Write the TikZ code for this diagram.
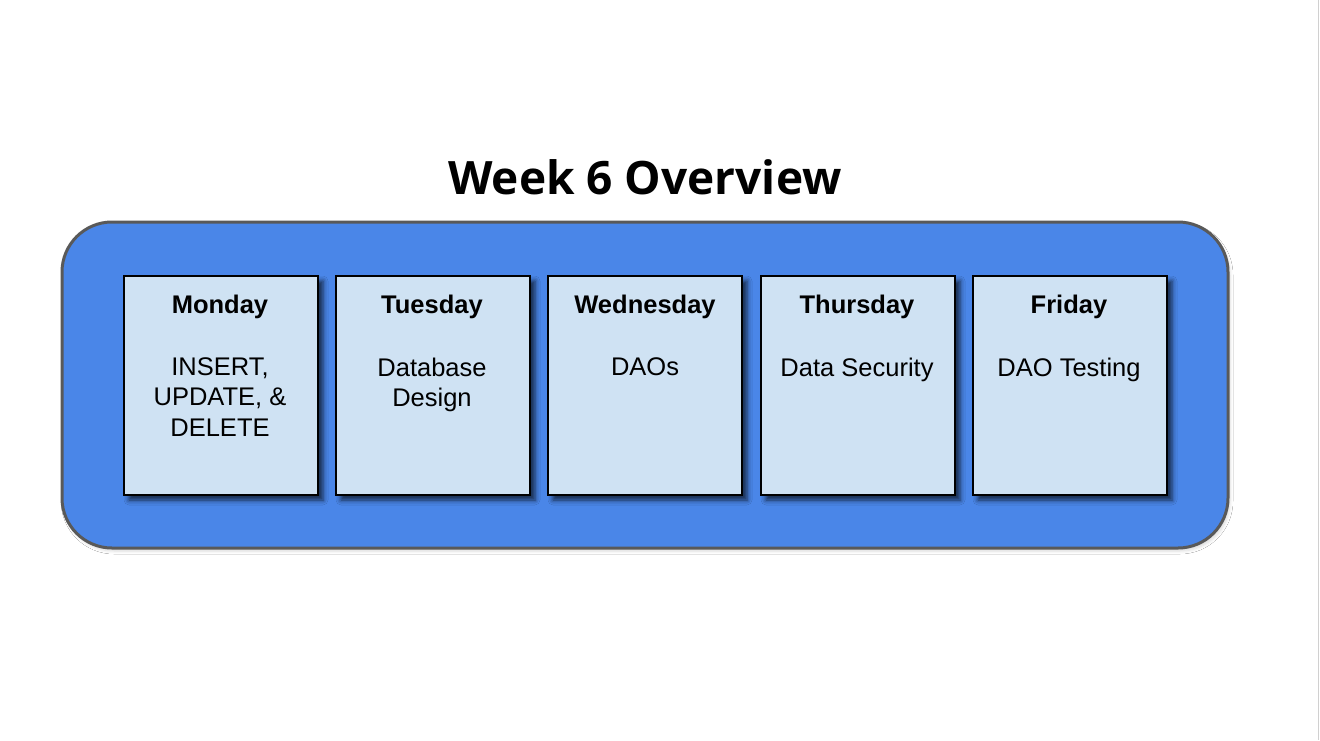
\documentclass[tikz,border=0pt]{standalone}
\usepackage{fontspec}
\setmainfont{Liberation Sans}
\newfontfamily\titlefont{Open Sans}
\usetikzlibrary{shadows.blur}
\definecolor{panelblue}{HTML}{4A86E8}
\definecolor{paneledge}{HTML}{595959}
\definecolor{dayfill}{HTML}{CFE2F3}
\definecolor{pageedge}{HTML}{D0D0D0}
\begin{document}
\begin{tikzpicture}[x=1pt,y=-1pt,
  panel/.style={draw=paneledge, line width=3pt, fill=panelblue, rounded corners=50pt,
    blur shadow={shadow xshift=2pt, shadow yshift=-3pt, shadow opacity=15, shadow blur radius=3pt}},
  daybox/.style={draw=black, line width=2.2pt, fill=dayfill,
    blur shadow={shadow xshift=5pt, shadow yshift=-5pt, shadow opacity=70, shadow blur radius=5pt}},
  dayname/.style={font=\fontsize{25.5}{30.5}\selectfont\bfseries, anchor=center},
  daytext/.style={font=\fontsize{25.5}{30.5}\selectfont, align=center, anchor=north}]
\useasboundingbox (0,0) rectangle (1320,740);
\fill[white] (0,0) rectangle (1320,740);
\draw[pageedge, line width=1.2pt] (1318.5,0) -- (1318.5,740);

\node[font=\titlefont\fontsize{46}{56}\selectfont\bfseries] (title) at (645,177) {Week 6 Overview};

\draw[panel] (62,222) rectangle (1228,548);

\foreach \x in {124, 336, 548, 761, 973} {
  \draw[daybox] (\x,276) rectangle ++(194,219);
}

\node[dayname] (monh) at (220,307) {Monday};
\node[dayname] (tueh) at (432,307) {Tuesday};
\node[dayname] (wedh) at (645,307) {Wednesday};
\node[dayname] (thuh) at (857,307) {Thursday};
\node[dayname] (frih) at (1069,307) {Friday};

\node[daytext] (mont) at (220,354) {INSERT,\\UPDATE, \&\\DELETE};
\node[daytext] (tuet) at (432,354) {Database\\Design};
\node[daytext] (wedt) at (645,354) {DAOs};
\node[daytext] (thut) at (857,354) {Data Security};
\node[daytext] (frit) at (1069,354) {DAO Testing};
\end{tikzpicture}
\end{document}
